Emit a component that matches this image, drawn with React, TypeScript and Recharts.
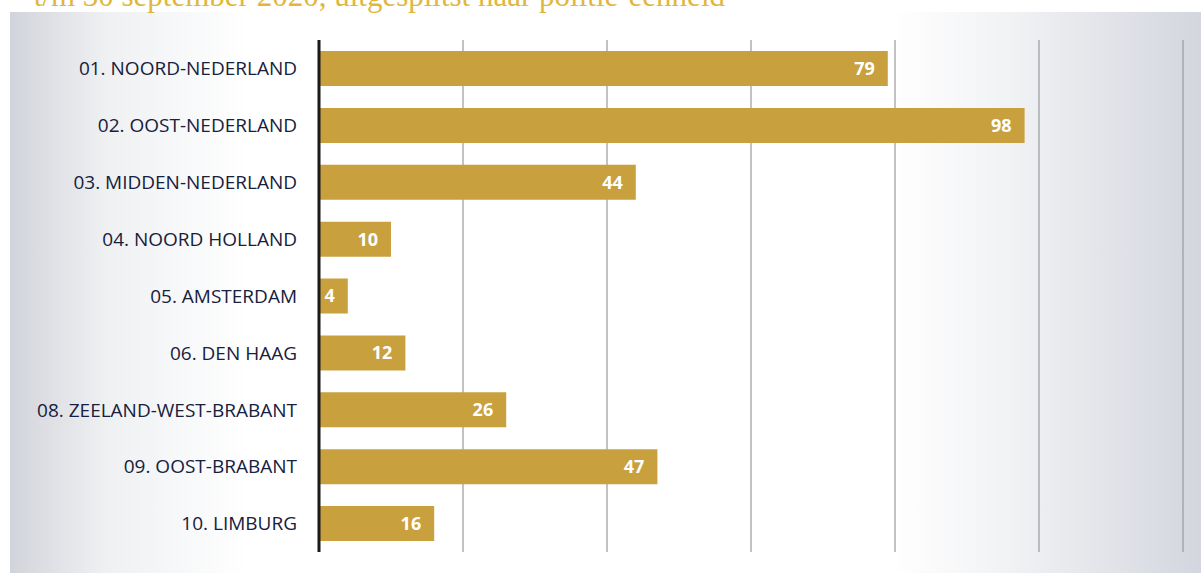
import React from 'react';
import { BarChart, Bar, XAxis, YAxis, CartesianGrid, LabelList } from 'recharts';

const regions = [
  '01. NOORD-NEDERLAND',
  '02. OOST-NEDERLAND',
  '03. MIDDEN-NEDERLAND',
  '04. NOORD HOLLAND',
  '05. AMSTERDAM',
  '06. DEN HAAG',
  '08. ZEELAND-WEST-BRABANT',
  '09. OOST-BRABANT',
  '10. LIMBURG'
];
const counts = [79, 98, 44, 10, 4, 12, 26, 47, 16];
const xTicks = [0, 20, 40, 60, 80, 100, 120];

const data = regions.map((region, i) => ({ region, count: counts[i] }));

const GOLD = '#c9a03e';

const App = () => (
  <div
    style={{
      position: 'absolute',
      left: 0,
      top: 0,
      width: 1201,
      height: 573,
      overflow: 'hidden',
      background: '#ffffff'
    }}
  >
    <div
      style={{
        position: 'absolute',
        left: 10,
        top: 12,
        right: 0,
        bottom: 0,
        background:
          'linear-gradient(to right, #d2d4db 0%, #eef0f2 8%, #ffffff 20%, #ffffff 74%, #f1f2f4 84%, #d3d6de 100%)'
      }}
    />
    <div
      style={{
        position: 'absolute',
        right: 476,
        top: -22,
        fontFamily: '"Liberation Serif", serif',
        fontSize: 31,
        color: '#e0b73c',
        whiteSpace: 'nowrap'
      }}
    >
      t/m 30 september 2020, uitgesplitst naar politie-eenheid
    </div>
    <div style={{ position: 'absolute', left: 0, top: 0 }}>
      <BarChart
        width={1201}
        height={573}
        data={data}
        layout="vertical"
        margin={{ top: 40, right: 18, bottom: 21, left: 0 }}
        barCategoryGap={11}
      >
        <CartesianGrid horizontal={false} stroke="#9a9a9a" strokeWidth={1.2} />
        <XAxis type="number" domain={[0, 120]} ticks={xTicks} hide />
        <YAxis
          type="category"
          dataKey="region"
          width={319}
          tickLine={false}
          tickSize={0}
          tickMargin={22}
          axisLine={{ stroke: '#1a1a1a', strokeWidth: 3 }}
          tick={{ fill: '#17203c', fontSize: 19, fontWeight: 500, fontFamily: '"Open Sans", sans-serif' }}
        />
        <Bar dataKey="count" fill={GOLD} isAnimationActive={false}>
          <LabelList
            dataKey="count"
            position="insideRight"
            offset={13}
            fill="#ffffff"
            fontSize={18}
            fontWeight="bold"
            fontFamily='"Open Sans", sans-serif'
          />
        </Bar>
      </BarChart>
    </div>
  </div>
);

export default App;
